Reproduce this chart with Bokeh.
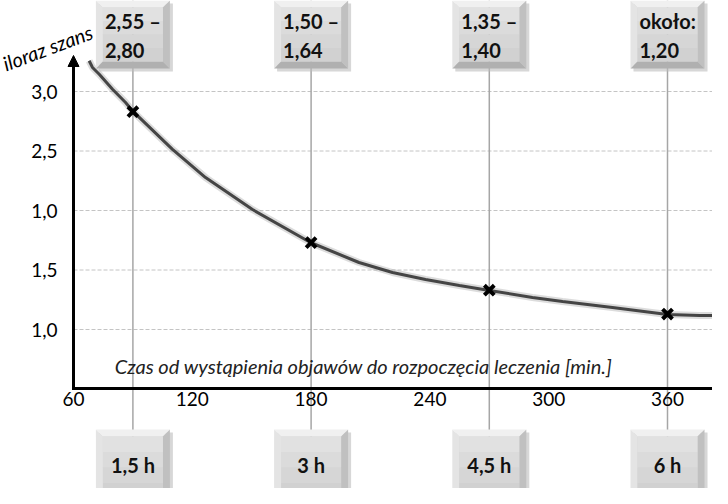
from bokeh.plotting import figure
from bokeh.models import FixedTicker, Arrow, NormalHead
from bokeh.core.properties import value
from bokeh.embed import file_html
from bokeh.resources import INLINE

# ---------------- data ----------------
curve_x = [67.9, 69.6, 73.0, 79.7, 86.3, 89.8, 110.0, 126.7, 150.4, 179.7, 204.2, 221.1, 237.8,
           254.9, 270.1, 291.8, 307.0, 332.2, 360.0, 376.2, 386.8]
curve_y = [3.258, 3.202, 3.145, 3.019, 2.908, 2.837, 2.513, 2.277, 2.008, 1.731, 1.563, 1.479, 1.420,
           1.370, 1.328, 1.269, 1.235, 1.185, 1.126, 1.118, 1.118]
point_x = [90, 180, 270, 360]
point_y = [2.83, 1.73, 1.33, 1.13]
range_labels = ["2,55 –\n2,80", "1,50 –\n1,64", "1,35 –\n1,40", "około:\n1,20"]
hour_labels = ["1,5 h", "3 h", "4,5 h", "6 h"]
x_ticks = [60, 120, 180, 240, 300, 360]
y_ticks = [1.0, 1.5, 2.0, 2.5, 3.0]
y_tick_labels = ["1,0", "1,5", "1,0", "2,5", "3,0"]
x_title = "Czas od wystąpienia objawów do rozpoczęcia leczenia [min.]"
y_title = "iloraz szans"

# ---------------- layout constants ----------------
W, H = 712, 488
SX = 1.98      # px per minute
SY = 119.0     # px per unit of odds ratio
X0 = 60 - 73 / SX
X1 = X0 + W / SX
Y1 = 3.0 + 91 / SY
Y0 = Y1 - H / SY
AXIS_Y = Y1 - 388 / SY
ARROW_TOP = Y1 - 55 / SY


def fx(px):
    return X0 + px / SX


def fy(py):
    return Y1 - py / SY


FONT = value("Lato")

p = figure(width=W, height=H, x_range=(X0, X1), y_range=(Y0, Y1),
           output_backend="svg", toolbar_location=None, min_border=0)
p.outline_line_color = None
p.grid.visible = False
p.background_fill_color = "white"

# axes (tick labels only, drawn at fixed data locations)
p.xaxis.fixed_location = AXIS_Y
p.yaxis.fixed_location = 60
p.xaxis.ticker = FixedTicker(ticks=x_ticks)
p.yaxis.ticker = FixedTicker(ticks=y_ticks)
p.yaxis.major_label_overrides = {t: l for t, l in zip(y_ticks, y_tick_labels)}
for ax in (p.xaxis, p.yaxis):
    ax.axis_line_color = None
    ax.major_tick_line_color = None
    ax.minor_tick_line_color = None
    ax.major_tick_out = 0
    ax.major_tick_in = 0
    ax.major_label_text_font = "Lato"
    ax.major_label_text_font_size = "19px"
    ax.major_label_text_color = "#000000"
p.xaxis.major_label_standoff = 3
p.yaxis.major_label_standoff = 16

# dashed horizontal grid lines
p.segment(x0=[60] * len(y_ticks), x1=[X1] * len(y_ticks), y0=y_ticks, y1=y_ticks,
          line_color="#c4c4c4", line_width=1, line_dash="4 2")

# vertical guide lines
p.segment(x0=point_x, x1=point_x, y0=[Y1] * 4, y1=[Y0] * 4,
          line_color="#a6a6a6", line_width=1.5)

# curve with soft shadow
p.line(curve_x, curve_y, line_color="#9a9a9a", line_width=7, line_alpha=0.35)
p.line(curve_x, curve_y, line_color="#454545", line_width=3)
p.scatter(point_x, point_y, marker="x", size=14, line_width=4, line_color="black")

# axis lines
p.segment(x0=[60], x1=[X1], y0=[AXIS_Y], y1=[AXIS_Y], line_color="black", line_width=3)
p.add_layout(Arrow(end=NormalHead(size=11, fill_color="black", line_color="black"),
                   x_start=60, y_start=AXIS_Y - 1.5 / SY, x_end=60, y_end=ARROW_TOP,
                   line_width=3, line_color="black"))


# bevelled boxes
def boxes(top, bottom, half=37, inset=7):
    shadow, tops, lefts, rights, bots = ([], [], [], [], [])
    faces = [[] for _ in range(4)]
    for cx in point_x:
        L, R = cx - half / SX, cx + half / SX
        T, B = fy(top), fy(bottom)
        i, j = inset / SX, inset / SY
        s, t = 3 / SX, 3 / SY
        shadow.append(([L + s, R + s, R + s, L + s], [T - t, T - t, B - t, B - t]))
        tops.append(([L, R, R - i, L + i], [T, T, T - j, T - j]))
        lefts.append(([L, L + i, L + i, L], [T, T - j, B + j, B]))
        rights.append(([R, R, R - i, R - i], [T, B, B + j, T - j]))
        bots.append(([L, R, R - i, L + i], [B, B, B + j, B + j]))
        ft, fb = T - j, B + j
        for k in range(4):
            a = ft + (fb - ft) * k / 4
            b = ft + (fb - ft) * (k + 1) / 4
            faces[k].append(([L + i, R - i, R - i, L + i], [a, a, b, b]))
    groups = [(shadow, "#bdbdbd", 0.6), (tops, "#f0f0f0", 1), (lefts, "#e4e4e4", 1),
              (rights, "#c0c0c0", 1), (bots, "#b0b0b0", 1)]
    for k, col in enumerate(["#e1e1e1", "#dbdbdb", "#d6d6d6", "#d1d1d1"]):
        groups.append((faces[k], col, 1))
    for group, col, alpha in groups:
        p.patches([g[0] for g in group], [g[1] for g in group], fill_color=col,
                  fill_alpha=alpha, line_color=None)


boxes(0, 68)
boxes(429, 505)

# texts
p.text(x=[c - 28 / SX for c in point_x], y=[fy(35)] * 4, text=range_labels,
       text_font=FONT, text_font_style="bold", text_font_size="20px",
       text_align="left", text_baseline="middle", text_line_height=1.2, text_color="#111111")
p.text(x=point_x, y=[fy(464)] * 4, text=hour_labels,
       text_font=FONT, text_font_style="bold", text_font_size="20px",
       text_align="center", text_baseline="middle", text_color="#111111")
p.text(x=[fx(363)], y=[fy(365)], text=[x_title], text_font=FONT, text_font_style="italic",
       text_font_size="20px", text_align="center", text_baseline="middle", text_color="#222222")
p.text(x=[fx(47)], y=[fy(47)], text=[y_title], text_font=FONT, text_font_style="italic",
       text_font_size="20px", text_align="center", text_baseline="middle", angle=0.36,
       text_color="#000000")

open("out.html", "w").write(file_html(p, INLINE))
